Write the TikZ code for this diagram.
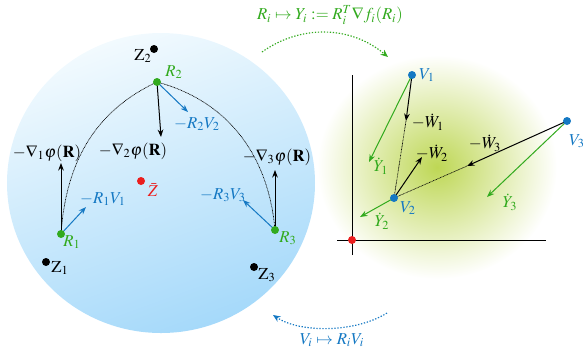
\documentclass[tikz,border=0pt]{standalone}
\usepackage{mathptmx}
\usetikzlibrary{arrows.meta}
\definecolor{cgreen}{RGB}{50,170,30}
\definecolor{cblue}{RGB}{20,120,195}
\definecolor{cred}{RGB}{235,30,30}
\definecolor{glow}{RGB}{190,215,85}
\definecolor{skyA}{RGB}{242,250,254}
\definecolor{skyB}{RGB}{165,217,250}
\pgfdeclarelayer{back}
\pgfdeclarelayer{mid}
\pgfsetlayers{back,mid,main}
\begin{document}
\begin{tikzpicture}[x=0.6pt,y=-0.6pt,font=\fontsize{10}{12}\selectfont,
  dot/.style={circle,fill,inner sep=0pt,minimum size=4.8pt},
  vec/.style={-{Stealth[length=4.5pt,width=3.4pt]},line width=0.6pt},
  geo/.style={dash pattern=on 0.5pt off 0.4pt,line width=0.4pt},
  maparrow/.style={-{Stealth[length=4.5pt,width=3.8pt]},line width=0.7pt,dash pattern=on 0.8pt off 1pt},
  lbl/.style={inner sep=0.5pt}]
\useasboundingbox (0,0) rectangle (583,351);
\begin{pgfonlayer}{back}
% sphere
\shade[top color=skyA,bottom color=skyB,shading angle=20] (161,183) ellipse [x radius=154,y radius=150];
% glow
\shade[inner color=glow,outer color=white] (437,167) ellipse [x radius=120,y radius=112];
\end{pgfonlayer}

% left points
\node[dot,cgreen] (R1) at (61,234) {};
\node[dot,cgreen] (R2) at (157,82) {};
\node[dot,cgreen] (R3) at (275,230) {};
\node[dot] (Z1) at (46,262) {};
\node[dot] (Z2) at (154,49) {};
\node[dot] (Z3) at (254,267) {};
\node[dot,cred] (Zb) at (141,181) {};

\node[lbl,cgreen] (lR1) at (72,242) {$R_1$};
\node[lbl,cgreen] (lR2) at (174,72) {$R_2$};
\node[lbl,cgreen] (lR3) at (288,238) {$R_3$};
\node[lbl] (lZ1) at (60,268) {$\mathrm{Z}_1$};
\node[lbl] (lZ2) at (143,56) {$\mathrm{Z}_2$};
\node[lbl] (lZ3) at (267,275) {$\mathrm{Z}_3$};
\node[lbl,cred] (lZb) at (153,190) {$\bar{Z}$};

% right points
\node[dot,cblue] (V1) at (412,75) {};
\node[dot,cblue] (V2) at (394,198) {};
\node[dot,cblue] (V3) at (567,121) {};
\node[lbl,cblue] (lV1) at (427,75) {$V_1$};
\node[lbl,cblue] (lV2) at (408,208) {$V_2$};
\node[lbl,cblue] (lV3) at (577,141) {$V_3$};

\coordinate (g1) at (61,163);
\coordinate (g2) at (161,137);
\coordinate (g3) at (275,170);
\coordinate (b1) at (86,207);
\coordinate (b2) at (188,112);
\coordinate (b3) at (243,200);
\coordinate (O) at (352,240);
\coordinate (yt) at (352,75);
\coordinate (yb) at (352,255);
\coordinate (xl) at (337,240);
\coordinate (xr) at (546,240);
\coordinate (w1) at (406,121);
\coordinate (w2) at (422,157);
\coordinate (w3) at (467,166);
\coordinate (y1) at (369,162);
\coordinate (y2) at (360,217);
\coordinate (y3) at (487,197);
\node[dot,cred] (On) at (O) {};

\begin{pgfonlayer}{mid}
% geodesics
\draw[geo] (R1.center) to[out=86,in=205] (R2.center);
\draw[geo] (R2.center) to[out=-15,in=95] (R3.center);
% tangent vectors
\draw[vec] (R1.center) -- (g1);
\draw[vec] (R2.center) -- (g2);
\draw[vec] (R3.center) -- (g3);
\draw[vec,cblue] (R1.center) -- (b1);
\draw[vec,cblue] (R2.center) -- (b2);
\draw[vec,cblue] (R3.center) -- (b3);
% axes
\draw[line width=0.6pt] (yb) -- (yt);
\draw[line width=0.6pt] (xl) -- (xr);
% right vectors
\draw[geo] (w1) -- (V2.center);
\draw[geo] (w3) -- (V2.center);
\draw[vec,cgreen] (V1.center) -- (y1);
\draw[vec,cgreen] (V2.center) -- (y2);
\draw[vec,cgreen] (V3.center) -- (y3);
\draw[vec] (V1.center) -- (w1);
\draw[vec] (V2.center) -- (w2);
\draw[vec] (V3.center) -- (w3);
\end{pgfonlayer}

\node[lbl] (lg1) at (47,153) {$-\nabla_1\varphi(\mathbf{R})$};
\node[lbl] (lg2) at (133,151) {$-\nabla_2\varphi(\mathbf{R})$};
\node[lbl] (lg3) at (277,157) {$-\nabla_3\varphi(\mathbf{R})$};
\node[lbl,cblue] (lb1) at (103,199) {$-R_1V_1$};
\node[lbl,cblue] (lb2) at (197,124) {$-R_2V_2$};
\node[lbl,cblue] (lb3) at (223,195) {$-R_3V_3$};

\node[lbl] (lw1) at (428,122) {$-\dot{W}_1$};
\node[lbl] (lw2) at (432,153) {$-\dot{W}_2$};
\node[lbl] (lw3) at (485,143) {$-\dot{W}_3$};
\node[lbl,cgreen] (ly1) at (381,166) {$\dot{Y}_1$};
\node[lbl,cgreen] (ly2) at (382,221) {$\dot{Y}_2$};
\node[lbl,cgreen] (ly3) at (510,202) {$\dot{Y}_3$};

% maps
\node[lbl,cgreen] (top) at (330,15) {$R_i\mapsto Y_i:=R_i^T\nabla f_i(R_i)$};
\node[lbl,cblue] (bot) at (332,340) {$V_i\mapsto R_iV_i$};
\coordinate (a1) at (262,52);
\coordinate (a2) at (388,57);
\coordinate (c1) at (387,313);
\coordinate (c2) at (273,315);
\draw[maparrow,cgreen] (a1) .. controls (300,25) and (350,25) .. (a2);
\draw[maparrow,cblue] (c1) .. controls (355,333) and (300,333) .. (c2);
\end{tikzpicture}
\end{document}
